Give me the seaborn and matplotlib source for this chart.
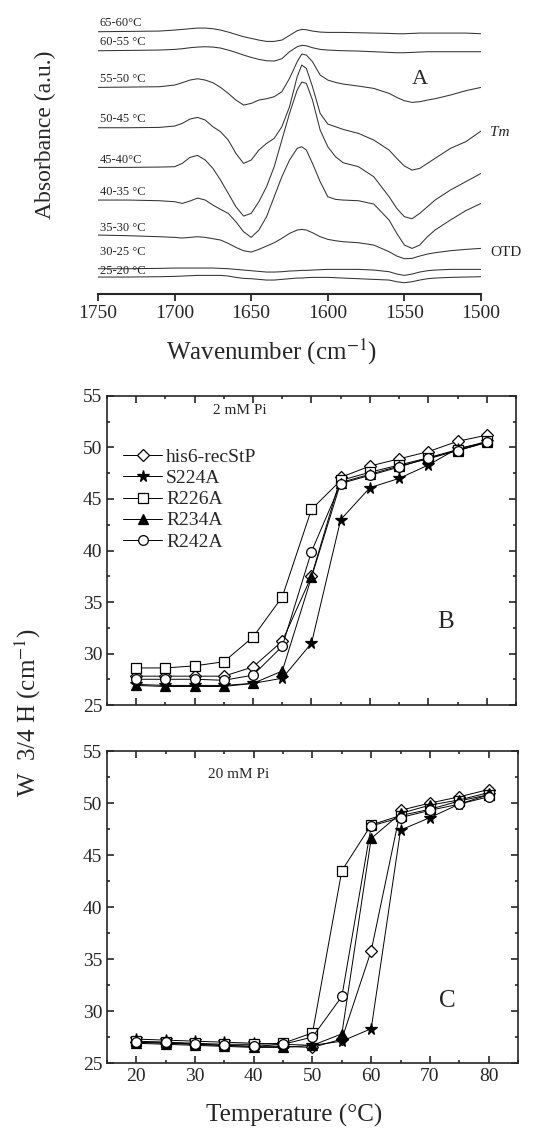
import numpy as np
import pandas as pd
import matplotlib
matplotlib.use("Agg")
import matplotlib.pyplot as plt
from matplotlib.ticker import MultipleLocator
import seaborn as sns

# ---------------- data: panel A (FTIR difference spectra) ----------------
wavenumber = [1750, 1730, 1710, 1700, 1695, 1690, 1685, 1680, 1675, 1670, 1665, 1660, 1655,
              1650, 1645, 1640, 1635, 1630, 1625, 1620, 1617, 1614, 1610, 1605, 1600, 1595,
              1590, 1580, 1570, 1560, 1555, 1550, 1545, 1540, 1535, 1530, 1520, 1510, 1500]

spec_65_60 = [7.87, 7.88, 7.89, 7.92, 7.94, 7.96, 7.98, 7.98, 7.96, 7.92, 7.86, 7.79, 7.72,
              7.67, 7.62, 7.58, 7.58, 7.62, 7.76, 7.90, 7.94, 7.93, 7.89, 7.86, 7.85, 7.85,
              7.85, 7.84, 7.83, 7.82, 7.81, 7.81, 7.82, 7.83, 7.83, 7.83, 7.83, 7.83, 7.81]
spec_60_55 = [7.30, 7.31, 7.32, 7.34, 7.36, 7.39, 7.41, 7.42, 7.41, 7.38, 7.32, 7.25, 7.17,
              7.10, 7.04, 7.00, 6.99, 7.06, 7.27, 7.42, 7.46, 7.45, 7.39, 7.34, 7.32, 7.31,
              7.30, 7.29, 7.27, 7.25, 7.24, 7.24, 7.25, 7.26, 7.27, 7.27, 7.27, 7.27, 7.27]
spec_55_50 = [6.20, 6.21, 6.22, 6.27, 6.34, 6.42, 6.46, 6.42, 6.34, 6.20, 6.02, 5.82, 5.67,
              5.72, 5.82, 5.86, 5.92, 6.07, 6.47, 6.97, 7.20, 7.17, 6.97, 6.57, 6.42, 6.35,
              6.30, 6.24, 6.17, 6.02, 5.90, 5.80, 5.75, 5.77, 5.82, 5.86, 5.97, 6.10, 6.20]
spec_50_45 = [4.99, 4.99, 5.00, 5.04, 5.12, 5.25, 5.30, 5.22, 5.02, 4.87, 4.62, 4.22, 3.92,
              4.02, 4.32, 4.52, 4.67, 5.02, 5.62, 6.52, 6.87, 6.77, 6.22, 5.42, 5.10, 5.02,
              4.94, 4.82, 4.62, 4.32, 4.07, 3.84, 3.72, 3.77, 3.92, 4.07, 4.37, 4.57, 4.89]
spec_45_40 = [3.80, 3.80, 3.81, 3.82, 3.92, 4.10, 4.16, 4.02, 3.77, 3.42, 3.02, 2.62, 2.34,
              2.42, 2.77, 3.22, 3.82, 4.62, 5.42, 6.12, 6.36, 6.32, 5.82, 4.92, 4.42, 4.12,
              3.94, 3.82, 3.52, 2.92, 2.57, 2.32, 2.26, 2.42, 2.62, 2.82, 3.12, 3.37, 3.62]
spec_40_35 = [2.82, 2.82, 2.80, 2.77, 2.72, 2.79, 2.88, 2.82, 2.67, 2.54, 2.42, 2.17, 1.87,
              1.70, 1.92, 2.32, 2.92, 3.52, 4.02, 4.37, 4.42, 4.32, 3.92, 3.37, 2.92, 2.84,
              2.82, 2.80, 2.70, 2.22, 1.82, 1.47, 1.37, 1.47, 1.72, 1.92, 2.22, 2.50, 2.72]
spec_35_30 = [1.77, 1.75, 1.72, 1.70, 1.68, 1.70, 1.72, 1.70, 1.66, 1.62, 1.52, 1.40, 1.30,
              1.26, 1.34, 1.44, 1.54, 1.67, 1.82, 1.92, 1.94, 1.92, 1.84, 1.72, 1.64, 1.60,
              1.57, 1.54, 1.47, 1.27, 1.14, 1.06, 1.07, 1.14, 1.20, 1.24, 1.30, 1.34, 1.37]
spec_30_25 = [0.76, 0.76, 0.77, 0.78, 0.78, 0.78, 0.78, 0.78, 0.78, 0.77, 0.76, 0.74, 0.72,
              0.70, 0.68, 0.66, 0.66, 0.67, 0.69, 0.70, 0.71, 0.71, 0.72, 0.73, 0.74, 0.74,
              0.74, 0.74, 0.72, 0.67, 0.60, 0.56, 0.60, 0.66, 0.70, 0.72, 0.74, 0.74, 0.74]
spec_25_20 = [0.51, 0.51, 0.52, 0.53, 0.54, 0.55, 0.56, 0.56, 0.56, 0.56, 0.54, 0.50, 0.47,
              0.46, 0.44, 0.42, 0.42, 0.44, 0.46, 0.48, 0.48, 0.49, 0.50, 0.50, 0.50, 0.49,
              0.48, 0.46, 0.44, 0.42, 0.37, 0.34, 0.37, 0.42, 0.46, 0.48, 0.50, 0.51, 0.52]

spectra = [spec_65_60, spec_60_55, spec_55_50, spec_50_45, spec_45_40,
           spec_40_35, spec_35_30, spec_30_25, spec_25_20]
spec_labels = ["65-60°C", "60-55 °C", "55-50 °C", "50-45 °C", "45-40°C",
               "40-35 °C", "35-30 °C", "30-25 °C", "25-20 °C"]

# ---------------- data: panels B and C (W3/4H vs temperature) ----------------
temperature = [20, 25, 30, 35, 40, 45, 50, 55, 60, 65, 70, 75, 80]
variants = ["his6-recStP", "S224A", "R226A", "R234A", "R242A"]

his6_2mM = [27.8, 27.8, 27.8, 27.8, 28.7, 31.2, 37.5, 47.1, 48.2, 48.9, 49.6, 50.6, 51.2]
s224a_2mM = [27.0, 26.9, 26.9, 26.9, 27.1, 27.6, 31.0, 43.0, 46.1, 47.0, 48.3, 49.9, 50.5]
r226a_2mM = [28.6, 28.6, 28.8, 29.2, 31.6, 35.5, 44.0, 46.8, 47.6, 48.3, 49.0, 49.8, 50.6]
r234a_2mM = [26.9, 26.8, 26.8, 26.8, 27.1, 28.3, 37.4, 46.6, 47.4, 48.2, 48.9, 49.7, 50.5]
r242a_2mM = [27.5, 27.5, 27.5, 27.4, 27.9, 30.7, 39.9, 46.5, 47.3, 48.1, 49.0, 49.7, 50.5]

his6_20mM = [27.0, 26.9, 26.8, 26.7, 26.6, 26.6, 26.5, 27.3, 35.8, 49.3, 50.0, 50.6, 51.3]
s224a_20mM = [27.3, 27.2, 27.1, 27.0, 26.9, 26.8, 26.7, 27.1, 28.3, 47.4, 48.6, 49.9, 50.8]
r226a_20mM = [27.1, 27.0, 26.9, 26.8, 26.8, 26.9, 27.9, 43.5, 47.9, 48.8, 49.4, 50.2, 50.8]
r234a_20mM = [26.9, 26.8, 26.7, 26.6, 26.5, 26.5, 26.7, 27.8, 46.6, 49.0, 49.8, 50.3, 51.0]
r242a_20mM = [27.0, 27.0, 26.8, 26.7, 26.6, 26.8, 27.5, 31.4, 47.8, 48.6, 49.3, 49.9, 50.6]

series_2mM = [his6_2mM, s224a_2mM, r226a_2mM, r234a_2mM, r242a_2mM]
series_20mM = [his6_20mM, s224a_20mM, r226a_20mM, r234a_20mM, r242a_20mM]

# ---------------- style ----------------
sns.set_theme(style="ticks")
plt.rcParams["font.family"] = ["Liberation Serif", "DejaVu Serif"]
plt.rcParams["mathtext.fontset"] = "stix"
plt.rcParams["axes.linewidth"] = 1.2

MARKERS = {"his6-recStP": ("D", "white", 6.0),
           "S224A": ("*", "black", 8.5),
           "R226A": ("s", "white", 6.5),
           "R234A": ("^", "black", 7.5),
           "R242A": ("o", "white", 7.0)}

fig = plt.figure(figsize=(5.55, 11.34), dpi=100)

# ---------------- panel A ----------------
axA = fig.add_axes([0.1766, 0.7407, 0.6901, 0.2416])
for vals, lab in zip(spectra, spec_labels):
    df = pd.DataFrame({"wn": wavenumber, "abs": vals})
    sns.lineplot(data=df, x="wn", y="abs", ax=axA, color="#333333", lw=0.75)

label_offsets = [6, 6, 6, 6, 5, 6, 5, 12, 4]
for vals, lab, off in zip(spectra, spec_labels, label_offsets):
    axA.annotate(lab, (1749, vals[0]), xytext=(0, off), textcoords="offset points",
                 ha="left", va="center", fontsize=9)

axA.set_xlim(1750, 1500)
axA.set_ylim(0, 8.22)
axA.set_xticks([1750, 1700, 1650, 1600, 1550, 1500])
axA.set_yticks([])
for s in ["top", "left", "right"]:
    axA.spines[s].set_visible(False)
axA.spines["bottom"].set_linewidth(1.5)
axA.tick_params(axis="x", direction="out", length=5, width=1.3, labelsize=14, pad=3)
axA.set_xlabel("")
axA.set_ylabel("")
axA.text(1494, 4.84, "Tm", style="italic", fontsize=11, ha="left", va="center")
axA.text(1494, 1.25, "OTD", fontsize=11, ha="left", va="center")
axA.text(1540, 6.45, "A", fontsize=16, ha="center", va="center")

fig.text(0.081, 1 - 135 / 1134, "Absorbance (a.u.)", rotation=90, fontsize=17,
         ha="center", va="center")
fig.text(0.49, 1 - 352 / 1134, "Wavenumber (cm$^{-1}$)", fontsize=18,
         ha="center", va="center")


def draw_panel(ax, series, show_legend):
    for name, vals in zip(variants, series):
        mk, fc, ms = MARKERS[name]
        sns.lineplot(x=temperature, y=vals, ax=ax, color="black", lw=0.7,
                     marker=mk, markersize=ms, markerfacecolor=fc,
                     markeredgecolor="black", markeredgewidth=0.9, label=name)
    ax.set_xlim(15, 85)
    ax.set_ylim(25, 55)
    ax.xaxis.set_major_locator(MultipleLocator(10))
    ax.xaxis.set_minor_locator(MultipleLocator(5))
    ax.yaxis.set_major_locator(MultipleLocator(5))
    ax.yaxis.set_minor_locator(MultipleLocator(2.5))
    ax.tick_params(which="both", direction="in", top=True, right=True, width=1.2,
                   labelsize=14)
    ax.tick_params(which="major", length=5)
    ax.tick_params(which="minor", length=2.5)
    ax.set_xlabel("")
    ax.set_ylabel("")
    if show_legend:
        ax.legend(loc="upper left", bbox_to_anchor=(0.04, 0.83), frameon=False,
                  fontsize=14, handlelength=2.0, handletextpad=0.2,
                  labelspacing=0.18, borderpad=0, borderaxespad=0)
    else:
        leg = ax.get_legend()
        if leg is not None:
            leg.remove()


# ---------------- panel B ----------------
axB = fig.add_axes([0.1928, 0.3783, 0.7369, 0.2725])
draw_panel(axB, series_2mM, True)
axB.tick_params(labelbottom=False)
axB.text(33.1, 53.6, "2 mM Pi", fontsize=11, ha="left", va="center")
axB.text(73, 33.1, "B", fontsize=18, ha="center", va="center")

# ---------------- panel C ----------------
axC = fig.add_axes([0.1928, 0.0626, 0.7405, 0.2751])
draw_panel(axC, series_20mM, False)
axC.text(32.2, 52.7, "20 mM Pi", fontsize=11, ha="left", va="center")
axC.text(73, 31.0, "C", fontsize=18, ha="center", va="center")

fig.text(0.05, 1 - 713 / 1134, "W  3/4 H (cm$^{-1}$)", rotation=90, fontsize=18,
         ha="center", va="center")
fig.text(0.53, 1 - 1115 / 1134, "Temperature (°C)", fontsize=18,
         ha="center", va="center")

fig.savefig("out.png", dpi=100)
